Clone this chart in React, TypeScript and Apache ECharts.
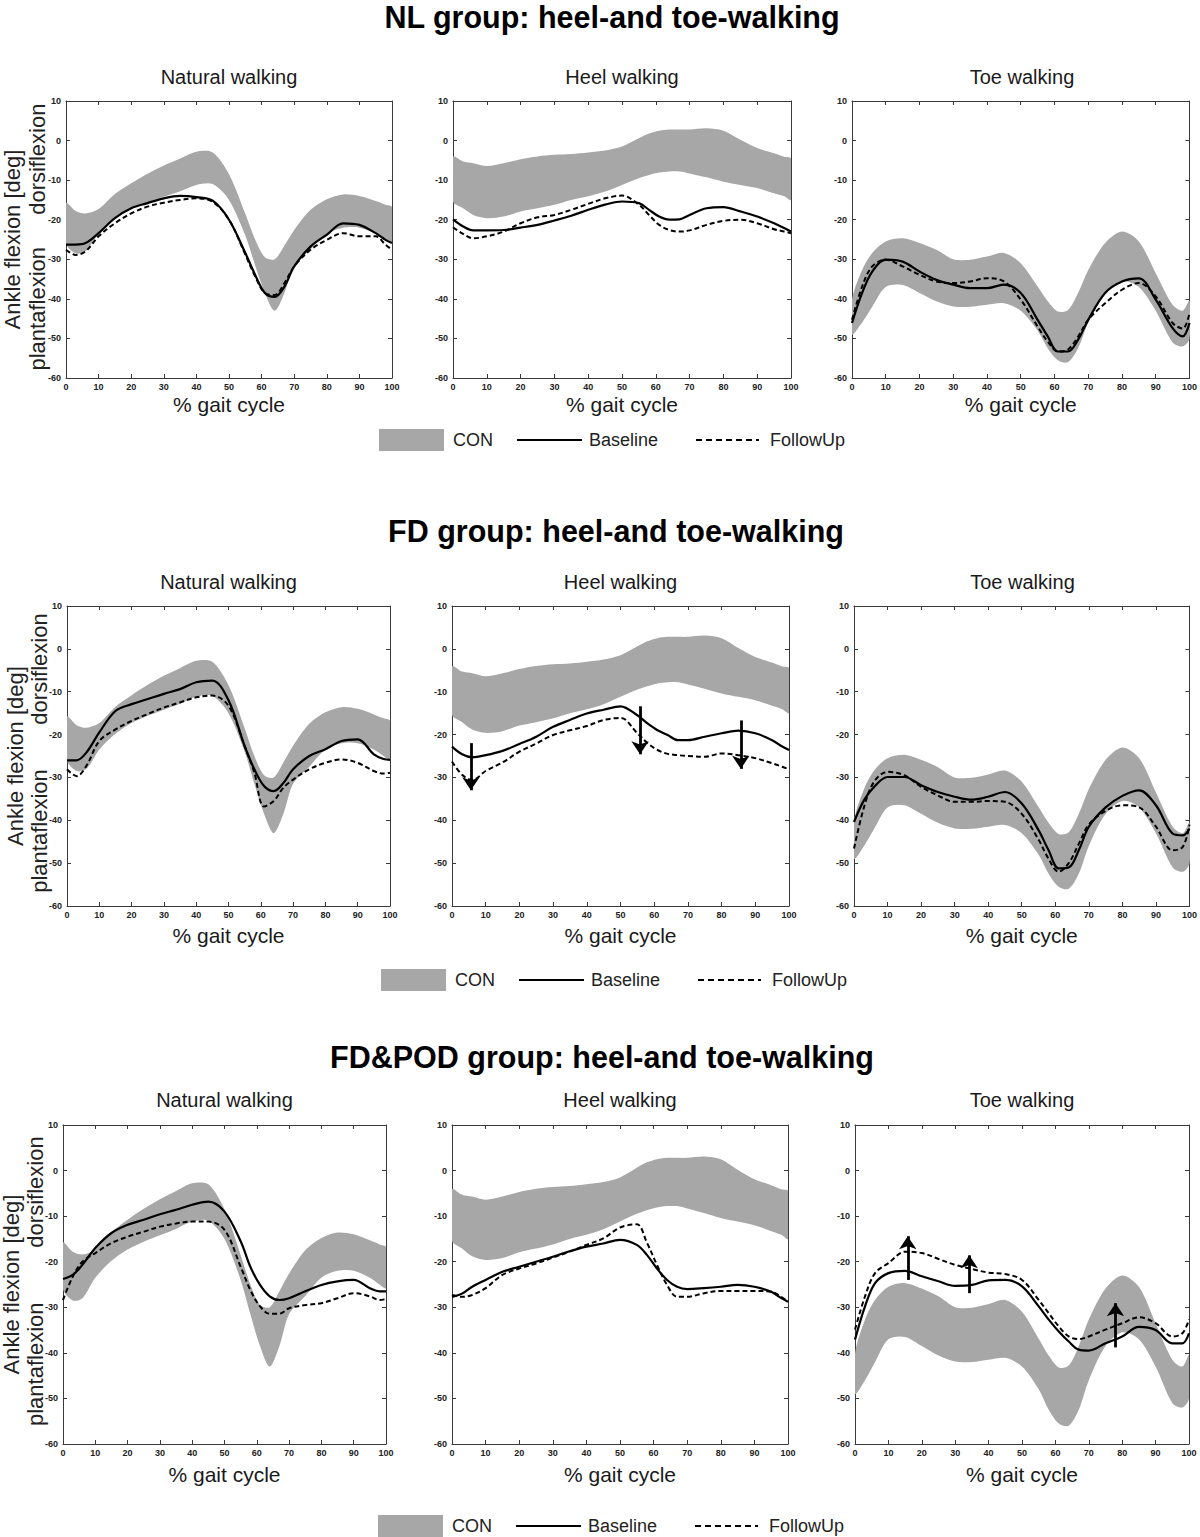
import React, { useEffect, useRef } from "react";
import * as echarts from "echarts";

// % gait cycle sample positions
const X = [0, 3, 6, 10, 15, 20, 25, 30, 35, 40, 45, 50, 55, 58, 61, 64, 67, 70, 75, 80, 85, 90, 95, 98, 100];
const X_TICKS = { min: 0, max: 100, interval: 10 };
const Y_TICKS = { min: -60, max: 10, interval: 10 };

// CON bands (upper / lower)
const naturalConHi = [-15.8, -17.8, -18.4, -17.3, -13.5, -10.8, -8.4, -6.3, -4.5, -2.8, -3, -8.5, -18.5, -25, -29.5, -30, -26.5, -22.6, -17.5, -14.8, -13.6, -14, -15.3, -16.2, -16.8];
const naturalConLo = [-26, -28.5, -28, -23.5, -19.8, -17.3, -15.6, -14.2, -12.8, -11.2, -11, -15, -24, -31.5, -38.5, -43, -38.5, -31.5, -27.5, -23.5, -22, -22, -23.5, -25, -25.8];
const heelConHi = [-4.1, -5.3, -5.7, -6.4, -5.7, -4.7, -4, -3.6, -3.4, -3, -2.5, -1.5, 0.6, 1.8, 2.5, 2.8, 2.8, 2.8, 3.1, 2.5, 0.2, -1.9, -3.2, -4.1, -4.5];
const heelConLo = [-15.4, -17.1, -18.8, -19.6, -19.2, -17.9, -17.1, -16.2, -15, -14.1, -12.9, -11.2, -9.5, -8.7, -8.1, -7.8, -7.8, -8.3, -9.3, -10.4, -11.2, -12, -13.3, -14.1, -15];
const toeConHi = [-40.2, -32.7, -28.4, -25.5, -24.7, -25.9, -27.6, -30, -30.1, -29.3, -28.4, -31, -36.9, -40.6, -43.2, -42.8, -38.5, -32.7, -25.9, -23, -25.5, -33.5, -41.5, -43, -40.5];
const toeConLo = [-49, -46, -42, -37, -36.5, -38.5, -40.6, -41.9, -42, -41.5, -41.1, -43, -48, -52.5, -55.5, -56, -52.5, -46, -38.5, -35.5, -37, -43, -51, -52, -50];

// NL group
const nlNatBase = [-26.3, -26.3, -25.9, -23.4, -19.6, -17.1, -15.8, -14.6, -14, -14.3, -15.2, -20, -28.4, -33.9, -38.5, -39.5, -36.9, -31.8, -26.8, -23.8, -20.9, -21.3, -23.4, -25.1, -25.9];
const nlNatFu = [-27.6, -28.9, -28, -24.2, -20.9, -18.4, -16.7, -15.7, -15, -14.6, -15.5, -20, -28.8, -34.3, -38.5, -39, -36, -31.8, -27.6, -25.1, -23.4, -24.2, -24.2, -26.3, -27.6];
const nlHeelBase = [-19.9, -21.7, -22.7, -22.7, -22.6, -22, -21.3, -20.2, -19, -17.5, -16.2, -15.4, -15.8, -17.5, -19.2, -20, -19.9, -18.8, -17.1, -16.8, -17.9, -19.2, -20.9, -22.1, -23];
const nlHeelFu = [-21.9, -23.6, -24.7, -24.2, -23, -20.9, -19.4, -18.8, -17.5, -16, -14.6, -13.9, -16.2, -18.8, -21.3, -22.6, -23, -22.7, -21.3, -20.3, -20, -20.9, -22.4, -23, -23.4];
const nlToeBase = [-46.1, -38.5, -33.1, -30.1, -30.6, -33.1, -35.2, -36.4, -37.3, -37.3, -36.4, -38.5, -45.3, -49.5, -53.3, -53.3, -50.3, -45.3, -38.5, -35.6, -34.8, -40.2, -47.4, -49.5, -46.1];
const nlToeFu = [-45.3, -36.9, -31.8, -30.1, -31.8, -33.9, -35.6, -36, -35.6, -34.8, -35.6, -40.2, -47, -50.8, -53.3, -52.8, -49.5, -45.3, -41.1, -37.7, -36, -39.4, -46.1, -47.5, -43.6];

// FD group
const fdNatBase = [-26, -26, -24.2, -19.5, -14.5, -12.9, -11.7, -10.5, -9.4, -7.8, -7.4, -12, -22.7, -28.1, -32, -33.2, -31.3, -28.1, -25, -23.4, -21.5, -21.1, -24.6, -25.7, -25.9];
const fdNatFu = [-28.1, -29.7, -27.3, -21.5, -18.8, -16.8, -15.2, -13.7, -12.5, -11.3, -10.9, -13.3, -22.7, -28.9, -36.8, -35.5, -32.4, -30.5, -28.1, -26.6, -25.8, -26.6, -28.5, -29.1, -28.9];
const fdHeelBase = [-22.8, -24.6, -25.3, -24.8, -23.8, -22.2, -20.5, -18.2, -16.6, -15.1, -14.2, -13.4, -15.5, -17.4, -19, -20.1, -21.3, -21.3, -20.5, -19.7, -19.1, -19.7, -21.3, -22.8, -23.6];
const fdHeelFu = [-26.3, -29.4, -30.6, -28.5, -26.5, -24, -22.1, -20.1, -19, -18, -16.6, -16.1, -19.7, -22, -23.6, -24.5, -24.8, -25, -25.2, -24.4, -24.8, -25.5, -26.7, -27.5, -28.1];
const fdToeBase = [-40.4, -35.3, -32.2, -29.9, -29.9, -31.8, -33.4, -34.5, -35.2, -34.5, -33.4, -36.1, -42.3, -47, -51.2, -51, -47, -41.5, -37, -34.3, -33, -36.5, -43.1, -43.5, -41.9];
const fdToeFu = [-46.6, -36.9, -31, -28.7, -29.5, -32.2, -34.2, -35.7, -35.7, -35.5, -35.7, -38.5, -44.5, -49, -52, -50, -45.5, -41, -37.8, -36.5, -37, -41.5, -47, -46.2, -41];

// FD&POD group
const fdpodNatBase = [-23.8, -22.9, -20.7, -17, -13.7, -11.9, -10.8, -9.6, -8.6, -7.5, -6.8, -9, -15.5, -21.1, -25.1, -27.6, -28.4, -28, -26.5, -25.1, -24.3, -24, -25.8, -26.5, -26.5];
const fdpodNatFu = [-28.4, -23.3, -20, -18.1, -15.9, -14.5, -13.4, -12.3, -11.6, -11.2, -11.2, -13, -21.1, -26.2, -29.8, -31.4, -31.4, -30.2, -29.5, -29.1, -28, -26.9, -27.6, -28.4, -28.2];
const fdpodHeelBase = [-27.7, -27, -25.5, -24, -22.2, -21.1, -20, -18.9, -17.7, -16.7, -16, -15.2, -16.3, -18.5, -21.5, -24, -25.5, -26, -25.8, -25.5, -25.1, -25.5, -26.6, -28, -28.8];
const fdpodHeelFu = [-27.3, -27.7, -27.3, -25.8, -22.9, -21.5, -20.4, -19.1, -17.8, -16.3, -14.9, -12.5, -11.8, -15.8, -20.7, -25.1, -27.7, -27.7, -26.9, -26.4, -26.4, -26.4, -26.6, -27.7, -28.8];
const fdpodToeBase = [-37.1, -29.8, -24.7, -22.5, -22, -23.2, -24.3, -25.3, -25.1, -24.1, -24, -25.4, -29.8, -32.7, -35.3, -37.5, -39.3, -39.5, -37.9, -36.4, -34.3, -35, -37.9, -37.9, -35.7];
const fdpodToeFu = [-34.9, -27.6, -22.5, -20.3, -17.8, -18.1, -19.4, -20.7, -21.6, -22.4, -22.7, -24, -28.4, -31.3, -34.2, -36.4, -37, -36.4, -34.9, -33.5, -32.2, -33.5, -36.4, -35.7, -32.7];

// arrows: [x, from y, to y]
const fdHeelArrows = [[5.6, -22, -33], [55.8, -13.4, -24.6], [85.7, -16.7, -28]];
const fdpodToeArrows = [[15.8, -24, -14.4], [34.2, -26.9, -18.6], [78, -38.8, -29.1]];

const GROUP_TITLES = ["NL group: heel-and toe-walking", "FD group: heel-and toe-walking", "FD&POD group: heel-and toe-walking"];
const CONDITIONS = ["Natural walking", "Heel walking", "Toe walking"];
const LEGEND_LABELS = ["CON", "Baseline", "FollowUp"];
const X_NAME = "% gait cycle";
const Y_NAME = "Ankle flexion [deg]";
const Y_NAME_UP = "dorsiflexion";
const Y_NAME_DOWN = "plantaflexion";

const FONT = '"Liberation Sans", Arial, Helvetica, sans-serif';
const BAND = "#a7a7a7";
const FRAME = "#3a3a3a";

const ROWS = [
  { top: 101, height: 277, lefts: [66, 453, 852], widths: [326, 338, 340], titleX: 612, titleY: 17, subY: 77, legendX: 379, legendY: 440, nameGap: 16, yl: [12, 37] },
  { top: 606, height: 300, lefts: [67, 452, 854], widths: [323, 337, 337], titleX: 616, titleY: 531, subY: 582, legendX: 381, legendY: 980, nameGap: 19, yl: [15, 39] },
  { top: 1125, height: 319, lefts: [63, 452, 855], widths: [323, 336, 334], titleX: 602, titleY: 1057, subY: 1100, legendX: 378, legendY: 1526, nameGap: 20, yl: [11, 35] },
];

const PANELS = [
  { row: 0, col: 0, hi: naturalConHi, lo: naturalConLo, base: nlNatBase, fu: nlNatFu, arrows: null },
  { row: 0, col: 1, hi: heelConHi, lo: heelConLo, base: nlHeelBase, fu: nlHeelFu, arrows: null },
  { row: 0, col: 2, hi: toeConHi, lo: toeConLo, base: nlToeBase, fu: nlToeFu, arrows: null },
  { row: 1, col: 0, hi: naturalConHi, lo: naturalConLo, base: fdNatBase, fu: fdNatFu, arrows: null },
  { row: 1, col: 1, hi: heelConHi, lo: heelConLo, base: fdHeelBase, fu: fdHeelFu, arrows: fdHeelArrows },
  { row: 1, col: 2, hi: toeConHi, lo: toeConLo, base: fdToeBase, fu: fdToeFu, arrows: null },
  { row: 2, col: 0, hi: naturalConHi, lo: naturalConLo, base: fdpodNatBase, fu: fdpodNatFu, arrows: null },
  { row: 2, col: 1, hi: heelConHi, lo: heelConLo, base: fdpodHeelBase, fu: fdpodHeelFu, arrows: null },
  { row: 2, col: 2, hi: toeConHi, lo: toeConLo, base: fdpodToeBase, fu: fdpodToeFu, arrows: fdpodToeArrows },
];

function txt(x: number, y: number, text: string, size: number, opts: any = {}) {
  return {
    type: "text",
    x,
    y,
    rotation: opts.rotation || 0,
    silent: true,
    style: {
      text,
      fill: opts.color || "#1a1a1a",
      font: `${opts.bold ? "bold " : ""}${size}px ${FONT}`,
      textAlign: opts.align || "center",
      align: opts.align || "center",
      textVerticalAlign: "middle",
      verticalAlign: "middle",
    },
  };
}

function buildOption() {
  const grid: any[] = [];
  const xAxis: any[] = [];
  const yAxis: any[] = [];
  const series: any[] = [];
  const graphic: any[] = [];

  const axisLine = { show: true, onZero: false, lineStyle: { color: FRAME, width: 1 } };
  const axisTick = { show: true, inside: true, length: 4, lineStyle: { color: FRAME, width: 1 } };
  const labelStyle = { fontSize: 9, color: "#222", fontWeight: "bold", fontFamily: FONT };

  PANELS.forEach((p, i) => {
    const r = ROWS[p.row];
    grid.push({ left: r.lefts[p.col], top: r.top, width: r.widths[p.col], height: r.height });
    xAxis.push({
      gridIndex: i, type: "value", ...X_TICKS, position: "bottom",
      axisLine, axisTick, splitLine: { show: false },
      axisLabel: { ...labelStyle, margin: 4 },
      name: X_NAME, nameLocation: "middle", nameGap: r.nameGap,
      nameTextStyle: { fontSize: 21, color: "#1a1a1a", fontFamily: FONT },
    });
    xAxis.push({
      gridIndex: i, type: "value", ...X_TICKS, position: "top",
      axisLine, axisTick, splitLine: { show: false }, axisLabel: { show: false },
    });
    yAxis.push({
      gridIndex: i, type: "value", ...Y_TICKS, position: "left",
      axisLine, axisTick, splitLine: { show: false },
      axisLabel: { ...labelStyle, margin: 5 },
    });
    yAxis.push({
      gridIndex: i, type: "value", ...Y_TICKS, position: "right",
      axisLine, axisTick, splitLine: { show: false }, axisLabel: { show: false },
    });

    const xi = 2 * i;
    series.push({
      type: "custom",
      xAxisIndex: xi,
      yAxisIndex: xi,
      silent: true,
      clip: true,
      z: 1,
      data: [[0, 0]],
      renderItem: (params: any, api: any) => {
        const top = X.map((x, k) => api.coord([x, p.hi[k]]));
        const bot = X.map((x, k) => api.coord([x, p.lo[k]])).reverse();
        return {
          type: "polygon",
          shape: { points: top.concat(bot), smooth: 0.3 },
          style: { fill: BAND, stroke: null },
        };
      },
    });
    const base: any = {
      type: "line",
      xAxisIndex: xi,
      yAxisIndex: xi,
      data: X.map((x, k) => [x, p.base[k]]),
      smooth: 0.35,
      symbol: "none",
      silent: true,
      z: 3,
      lineStyle: { color: "#000", width: 2.2 },
    };
    if (p.arrows) {
      base.markLine = {
        silent: true,
        symbol: ["none", "arrow"],
        symbolSize: 13,
        label: { show: false },
        lineStyle: { color: "#000", width: 2.8, type: "solid" },
        data: p.arrows.map((a) => [{ coord: [a[0], a[1]] }, { coord: [a[0], a[2]] }]),
      };
    }
    series.push(base);
    series.push({
      type: "line",
      xAxisIndex: xi,
      yAxisIndex: xi,
      data: X.map((x, k) => [x, p.fu[k]]),
      smooth: 0.35,
      symbol: "none",
      silent: true,
      z: 2,
      lineStyle: { color: "#000", width: 2, type: [5, 3] },
    });

    // condition subtitle
    graphic.push(txt(r.lefts[p.col] + r.widths[p.col] / 2, r.subY, CONDITIONS[p.col], 20));

    // y-axis name for first column
    if (p.col === 0) {
      const cy = r.top + r.height / 2;
      graphic.push(txt(r.yl[0], cy, Y_NAME, 22, { rotation: Math.PI / 2, color: "#222" }));
      graphic.push(txt(r.yl[1], r.top + r.height * 0.21, Y_NAME_UP, 22, { rotation: Math.PI / 2, color: "#222" }));
      graphic.push(txt(r.yl[1], r.top + r.height * 0.75, Y_NAME_DOWN, 22, { rotation: Math.PI / 2, color: "#222" }));
    }
  });

  ROWS.forEach((r, ri) => {
    graphic.push(txt(r.titleX, r.titleY, GROUP_TITLES[ri], 30.5, { bold: true, color: "#000" }));
    const L = r.legendX;
    const cy = r.legendY;
    graphic.push({ type: "rect", silent: true, shape: { x: L, y: cy - 11, width: 65, height: 22 }, style: { fill: BAND } });
    graphic.push(txt(L + 74, cy, LEGEND_LABELS[0], 18, { align: "left", color: "#222" }));
    graphic.push({ type: "line", silent: true, shape: { x1: L + 138, y1: cy, x2: L + 203, y2: cy }, style: { stroke: "#000", lineWidth: 2 } });
    graphic.push(txt(L + 210, cy, LEGEND_LABELS[1], 18, { align: "left", color: "#222" }));
    graphic.push({ type: "line", silent: true, shape: { x1: L + 317, y1: cy, x2: L + 380, y2: cy }, style: { stroke: "#000", lineWidth: 2, lineDash: [6, 4] } });
    graphic.push(txt(L + 391, cy, LEGEND_LABELS[2], 18, { align: "left", color: "#222" }));
  });

  return {
    animation: false,
    backgroundColor: "#fff",
    grid,
    xAxis,
    yAxis,
    series,
    graphic: { elements: graphic },
  };
}

export default function App() {
  const ref = useRef<HTMLDivElement>(null);
  useEffect(() => {
    if (!ref.current) return;
    const chart = echarts.init(ref.current, null, { renderer: "svg" });
    chart.setOption(buildOption() as any);
    return () => chart.dispose();
  }, []);
  return (
    <div
      ref={ref}
      style={{ position: "absolute", left: 0, top: 0, width: 1200, height: 1537, background: "#fff" }}
    />
  );
}
